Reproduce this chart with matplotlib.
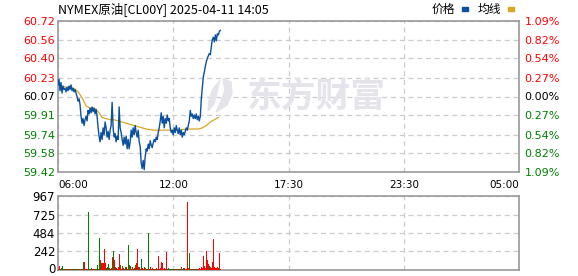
import numpy as np
import matplotlib
matplotlib.use('Agg')
import matplotlib.pyplot as plt
import matplotlib.transforms as mtrans
from matplotlib.patches import Rectangle, Polygon

# chart data
title = 'NYMEX原油[CL00Y] 2025-04-11 14:05'
price_ticks = [59.42, 59.58, 59.74, 59.91, 60.07, 60.23, 60.40, 60.56, 60.72]
pct_labels = ['1.09%', '0.82%', '0.54%', '0.27%', '0.00%',
              '0.27%', '0.54%', '0.82%', '1.09%']
time_labels = ['06:00', '12:00', '17:30', '23:30', '05:00']
vol_ticks = [0, 242, 484, 725, 967]

# one sample every 3 minutes from 06:00 to 14:05
price = [
    60.17, 60.22, 60.12, 60.19, 60.10, 60.16, 60.13, 60.14, 60.11, 60.15,
    60.12, 60.16, 60.13, 60.17, 60.12, 60.14, 60.11, 60.13, 60.10, 60.07,
    60.03, 60.05, 60.00, 59.90, 59.84, 59.88, 59.82, 59.87, 59.90, 59.86,
    59.95, 59.92, 59.97, 59.93, 59.98, 59.94, 59.97, 59.92, 59.96, 59.90,
    59.80, 59.73, 59.68, 59.76, 59.70, 59.80, 59.74, 59.85, 59.80, 59.72,
    59.77, 59.70, 59.78, 59.82, 60.02, 59.80, 59.72, 59.75, 59.68, 59.73,
    59.70, 59.98, 59.80, 59.76, 59.70, 59.65, 59.72, 59.66, 59.73, 59.62,
    59.70, 59.62, 59.68, 59.78, 59.72, 59.80, 59.74, 59.82, 59.76, 59.72,
    59.78, 59.68, 59.64, 59.50, 59.45, 59.52, 59.44, 59.55, 59.62, 59.60,
    59.66, 59.62, 59.69, 59.65, 59.63, 59.67, 59.70, 59.68, 59.72, 59.70,
    59.76, 59.80, 59.86, 59.93, 59.84, 59.90, 59.80, 59.88, 59.84, 59.91,
    59.86, 59.88, 59.80, 59.76, 59.78, 59.74, 59.80, 59.76, 59.82, 59.78,
    59.75, 59.80, 59.74, 59.78, 59.72, 59.76, 59.74, 59.77, 59.80, 59.78,
    59.82, 59.86, 59.95, 59.90, 59.92, 59.88, 59.91, 59.88, 59.92, 59.87,
    59.90, 59.86, 59.90, 60.05, 60.15, 60.24, 60.28, 60.33, 60.37, 60.40,
    60.42, 60.44, 60.43, 60.50, 60.56, 60.58, 60.54, 60.60, 60.55, 60.61,
    60.60, 60.63, 60.64,
]

# average line, one sample every 12 minutes
avg_price = [
    60.17, 60.16, 60.15, 60.15, 60.14, 60.11, 60.06, 59.99, 59.97, 59.97,
    59.94, 59.89, 59.88, 59.87, 59.87, 59.86, 59.85, 59.84, 59.83, 59.82,
    59.81, 59.80, 59.79, 59.785, 59.78, 59.78, 59.78, 59.78, 59.78, 59.78,
    59.78, 59.785, 59.79, 59.79, 59.79, 59.79, 59.80, 59.82, 59.85, 59.87,
    59.89,
]

volume = [
    8, 52, 12, 30, 52, 12, 10, 12, 10, 12, 10, 12, 10, 12, 10, 12, 10, 12, 10, 12,
    10, 12, 10, 12, 14, 105, 105, 12, 10, 12, 758, 10, 12, 26, 10, 12, 10, 12, 10, 65,
    12, 418, 130, 90, 96, 96, 274, 96, 22, 44, 78, 22, 12, 20, 174, 248, 130, 44, 22, 12,
    44, 209, 65, 12, 52, 22, 12, 44, 35, 12, 327, 65, 52, 12, 44, 12, 20, 65, 87, 274,
    44, 44, 12, 139, 30, 12, 44, 22, 12, 12, 479, 12, 44, 12, 30, 12, 18, 12, 22, 12,
    183, 12, 22, 109, 96, 12, 30, 12, 231, 12, 22, 12, 14, 12, 14, 12, 14, 12, 14, 12,
    14, 12, 14, 44, 12, 22, 30, 12, 14, 889, 30, 226, 14, 12, 14, 18, 12, 14, 18, 12,
    14, 22, 14, 44, 30, 183, 52, 30, 253, 130, 74, 56, 44, 30, 109, 400, 44, 30, 22, 44,
    30, 226, 14,
]
# r = up bar, g = down bar
vol_dir = ('rrrgggrgrggrgrgrggrg' 'rgrgrgrrgrgrggrrgrgg' 'rgrgrrrrrgggrrrgrgrr'
           'rrgrrrggrrggrrrgrgrr' 'rgrgrrgrrggrrrrggrrr' 'rgrrrrrrrggggrggrggr'
           'ggrrggrrrrrgrgrgrggr' 'rrrrrrrrrrrgrrrrrrrrgrr')

RED = '#ff0000'
GREEN = '#008000'
BLUE = '#0a50a0'
GOLD = '#daa520'
SPINE = '#999999'
GRID = '#cccccc'
WM = '#e4e4ea'
cjk = ['Noto Sans CJK SC', 'DejaVu Sans']

W, H = 578, 276
fig = plt.figure(figsize=(W / 100, H / 100), dpi=100)
ax = fig.add_axes([58 / W, 1 - 172 / H, 461 / W, 151 / H])
axv = fig.add_axes([58 / W, 1 - 270 / H, 461 / W, 74 / H])


def px(x, y):
    # figure pixel (from top-left) -> figure fraction
    return (x / W, 1 - y / H)


total_min = 1380
t = np.arange(len(price)) * 3
t_avg = np.arange(len(avg_price)) * 12
xt = np.linspace(0, total_min, len(time_labels))

for a in (ax, axv):
    a.set_xlim(0, total_min)
    a.set_xticks(xt)
    for s in a.spines.values():
        s.set_color(SPINE)
        s.set_linewidth(1.2)
    a.grid(True, color=GRID, linestyle=(0, (4, 3)), linewidth=0.9)
    a.tick_params(length=0)
    a.set_axisbelow(True)

# watermark: logo + name
ax.text(0.560, 0.505, '东方财富', transform=ax.transAxes, fontsize=25,
        fontweight='bold', color=WM, ha='center', va='center',
        family=cjk, zorder=1)
petal1 = [(208, 111), (209, 100), (213, 89), (220, 80), (217, 92), (214, 104)]
petal2 = [(223, 79), (231, 82), (232, 94), (227, 105), (216, 112), (221, 101), (225, 90)]
for pts in (petal1, petal2):
    fig.patches.append(Polygon([px(*p) for p in pts], closed=True,
                               transform=fig.transFigure, color=WM, zorder=0))

ax.plot(t, price, color=BLUE, linewidth=1.0, zorder=3)
ax.plot(t_avg, avg_price, color=GOLD, linewidth=0.9, zorder=2)

ax.set_ylim(price_ticks[0], price_ticks[-1])
ax.set_yticks(price_ticks)
ax.set_yticklabels(['%.2f' % v for v in price_ticks], fontsize=8)
mid = len(price_ticks) // 2
for i, lab in enumerate(ax.get_yticklabels()):
    lab.set_color(GREEN if i < mid else (RED if i > mid else 'black'))
ax.tick_params(axis='y', pad=2)

ax.set_xticklabels(time_labels, fontsize=7.5)
ax.tick_params(axis='x', pad=6)
xl = ax.get_xticklabels()
xl[0].set_ha('left')
xl[-1].set_ha('right')

axr = ax.twinx()
axr.set_ylim(price_ticks[0], price_ticks[-1])
axr.set_yticks(price_ticks)
axr.set_yticklabels(pct_labels, fontsize=8)
axr.tick_params(length=0, pad=4)
for s in axr.spines.values():
    s.set_visible(False)
for i, lab in enumerate(axr.get_yticklabels()):
    lab.set_color(GREEN if i < mid else (RED if i > mid else 'black'))

colors = [RED if c == 'r' else GREEN for c in vol_dir]
axv.bar(t, volume, width=2.4, color=colors, linewidth=0, align='edge',
        antialiased=False, zorder=3)
axv.set_ylim(0, vol_ticks[-1])
axv.set_yticks(vol_ticks)
axv.set_yticklabels([str(v) for v in vol_ticks], fontsize=8.5)
axv.tick_params(axis='y', pad=2)
axv.set_xticklabels([])
zero_lab = axv.get_yticklabels()[0]
zero_lab.set_transform(zero_lab.get_transform() +
                       mtrans.ScaledTranslation(0, 2 / 100, fig.dpi_scale_trans))

# title and legend
fig.text(*px(58, 9), title, fontsize=9, family=cjk, ha='left', va='center')
fig.text(*px(432, 9), '价格', fontsize=8.5, family=cjk, ha='left', va='center')
fig.text(*px(478, 9), '均线', fontsize=8.5, family=cjk, ha='left', va='center')
fig.patches.append(Rectangle(px(462, 10.5), 6 / W, 3 / H,
                             transform=fig.transFigure, color=BLUE))
fig.patches.append(Rectangle(px(508, 10.5), 6 / W, 3 / H,
                             transform=fig.transFigure, color=GOLD))

fig.savefig('out.png', dpi=100)
